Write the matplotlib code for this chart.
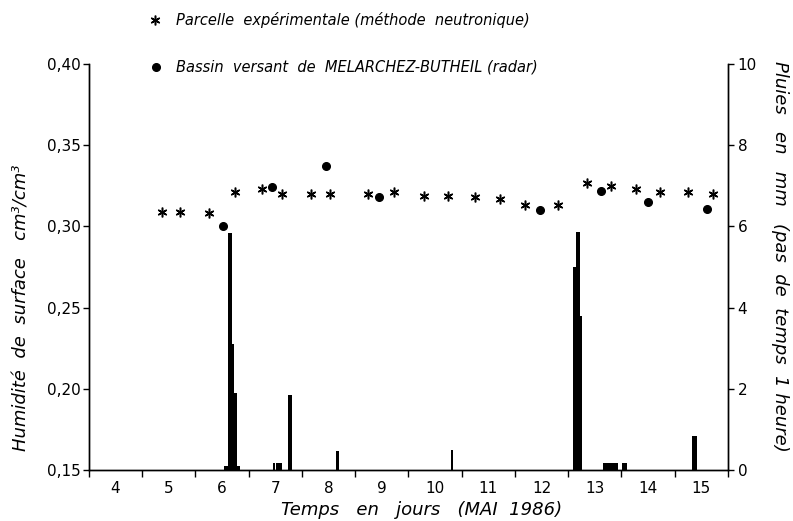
import matplotlib
matplotlib.use("Agg")
import matplotlib.pyplot as plt
from matplotlib.ticker import FixedLocator, FuncFormatter

# Parcelle expérimentale (méthode neutronique), humidité cm3/cm3
days_parcelle = [5.37, 5.71, 6.26, 6.74, 7.26, 7.62, 8.17, 8.53, 9.25, 9.73, 10.29,
                 10.75, 11.25, 11.72, 12.18, 12.81, 13.35, 13.80, 14.27, 14.72, 15.25, 15.72]
hum_parcelle = [0.309, 0.309, 0.308, 0.321, 0.323, 0.320, 0.320, 0.320, 0.320, 0.321, 0.319,
                0.319, 0.318, 0.317, 0.313, 0.313, 0.327, 0.325, 0.323, 0.321, 0.321, 0.320]

# Bassin versant de MELARCHEZ-BUTHEIL (radar)
days_bassin = [6.51, 7.44, 8.45, 9.44, 12.48, 13.61, 14.49, 15.60]
hum_bassin = [0.300, 0.324, 0.337, 0.318, 0.310, 0.322, 0.315, 0.311]

# pluies horaires (mm), temps au centre de l'heure
rain_t = [6.566, 6.587, 6.629, 6.671, 6.713, 6.755, 6.797, 6.818,
          7.484, 7.526, 7.568, 7.600, 7.765, 7.798, 8.671, 10.824,
          13.119, 13.161, 13.203, 13.245,
          13.678, 13.720, 13.762, 13.803, 13.845, 13.887, 13.907,
          14.04, 14.08, 15.35, 15.39]
rain_mm = [0.1, 0.1, 5.85, 5.85, 3.1, 1.9, 0.1, 0.1,
           0.17, 0.17, 0.17, 0.17, 1.85, 1.85, 0.47, 0.49,
           5.0, 5.87, 5.87, 3.8,
           0.18, 0.18, 0.18, 0.18, 0.18, 0.18, 0.18,
           0.17, 0.17, 0.84, 0.84]

day_labels = list(range(4, 16))
hum_ticks = [0.15, 0.20, 0.25, 0.30, 0.35, 0.40]
rain_ticks = [0, 2, 4, 6, 8, 10]

plt.rcParams['font.family'] = 'DejaVu Sans'
fig = plt.figure(figsize=(7.93, 5.21), dpi=100)
ax = fig.add_axes([0.112, 0.098, 0.806, 0.779])
ax2 = ax.twinx()

ax2.bar(rain_t, rain_mm, width=1 / 24, color='black', linewidth=0)
ax.plot(days_parcelle, hum_parcelle, ls='none', marker=(6, 2, 0), ms=7, mew=1.1,
        color='black', zorder=5)
ax.plot(days_bassin, hum_bassin, ls='none', marker='o', ms=5.5, color='black', zorder=5)
ax.set_zorder(ax2.get_zorder() + 1)
ax.patch.set_visible(False)

ax.set_xlim(4, 16)
ax.set_ylim(0.15, 0.40)
ax2.set_ylim(0, 10)

for a in (ax, ax2):
    a.spines['top'].set_visible(False)
    for s in a.spines.values():
        s.set_linewidth(1.0)

ax.xaxis.set_major_locator(FixedLocator(list(range(4, 17))))
ax.xaxis.set_major_formatter(FuncFormatter(lambda v, p: ''))
ax.xaxis.set_minor_locator(FixedLocator([d + 0.5 for d in day_labels]))
ax.xaxis.set_minor_formatter(FuncFormatter(lambda v, p: f"{int(v)}"))
ax.tick_params(axis='x', which='major', direction='out', length=5, width=1)
ax.tick_params(axis='x', which='minor', length=0, labelsize=11, pad=8)

ax.set_yticks(hum_ticks)
ax.yaxis.set_major_formatter(FuncFormatter(lambda v, p: f"{v:.2f}".replace('.', ',')))
ax.tick_params(axis='y', direction='out', length=4, width=1, labelsize=11, pad=2)

ax2.set_yticks(rain_ticks)
ax2.tick_params(axis='y', direction='out', length=4, width=1, labelsize=11, pad=3)

ax.set_xlabel("Temps   en   jours   (MAI  1986)", fontsize=13, style='italic', va='center')
ax.xaxis.set_label_coords(0.52, -0.098)
ax.set_ylabel("Humidité  de  surface   cm³/cm³", fontsize=13, style='italic', va='center')
ax.yaxis.set_label_coords(-0.106, 0.40)
ax2.set_ylabel("Pluies   en   mm   (pas  de  temps  1 heure)", fontsize=13, style='italic',
               rotation=270, va='center')
ax2.yaxis.set_label_coords(1.082, 0.527)

# légende en haut
fig.lines.append(plt.Line2D([155 / 793], [1 - 20 / 521], transform=fig.transFigure,
                            ls='none', marker=(6, 2, 0), ms=7, mew=1.1, color='black'))
fig.lines.append(plt.Line2D([156 / 793], [1 - 67 / 521], transform=fig.transFigure,
                            ls='none', marker='o', ms=5.5, color='black'))
fig.text(176 / 793, 1 - 20 / 521, "Parcelle  expérimentale (méthode  neutronique)",
         fontsize=10.5, style='italic', va='center', ha='left')
fig.text(176 / 793, 1 - 67 / 521, "Bassin  versant  de  MELARCHEZ-BUTHEIL (radar)",
         fontsize=10.5, style='italic', va='center', ha='left')

fig.savefig("out.png", dpi=100)
